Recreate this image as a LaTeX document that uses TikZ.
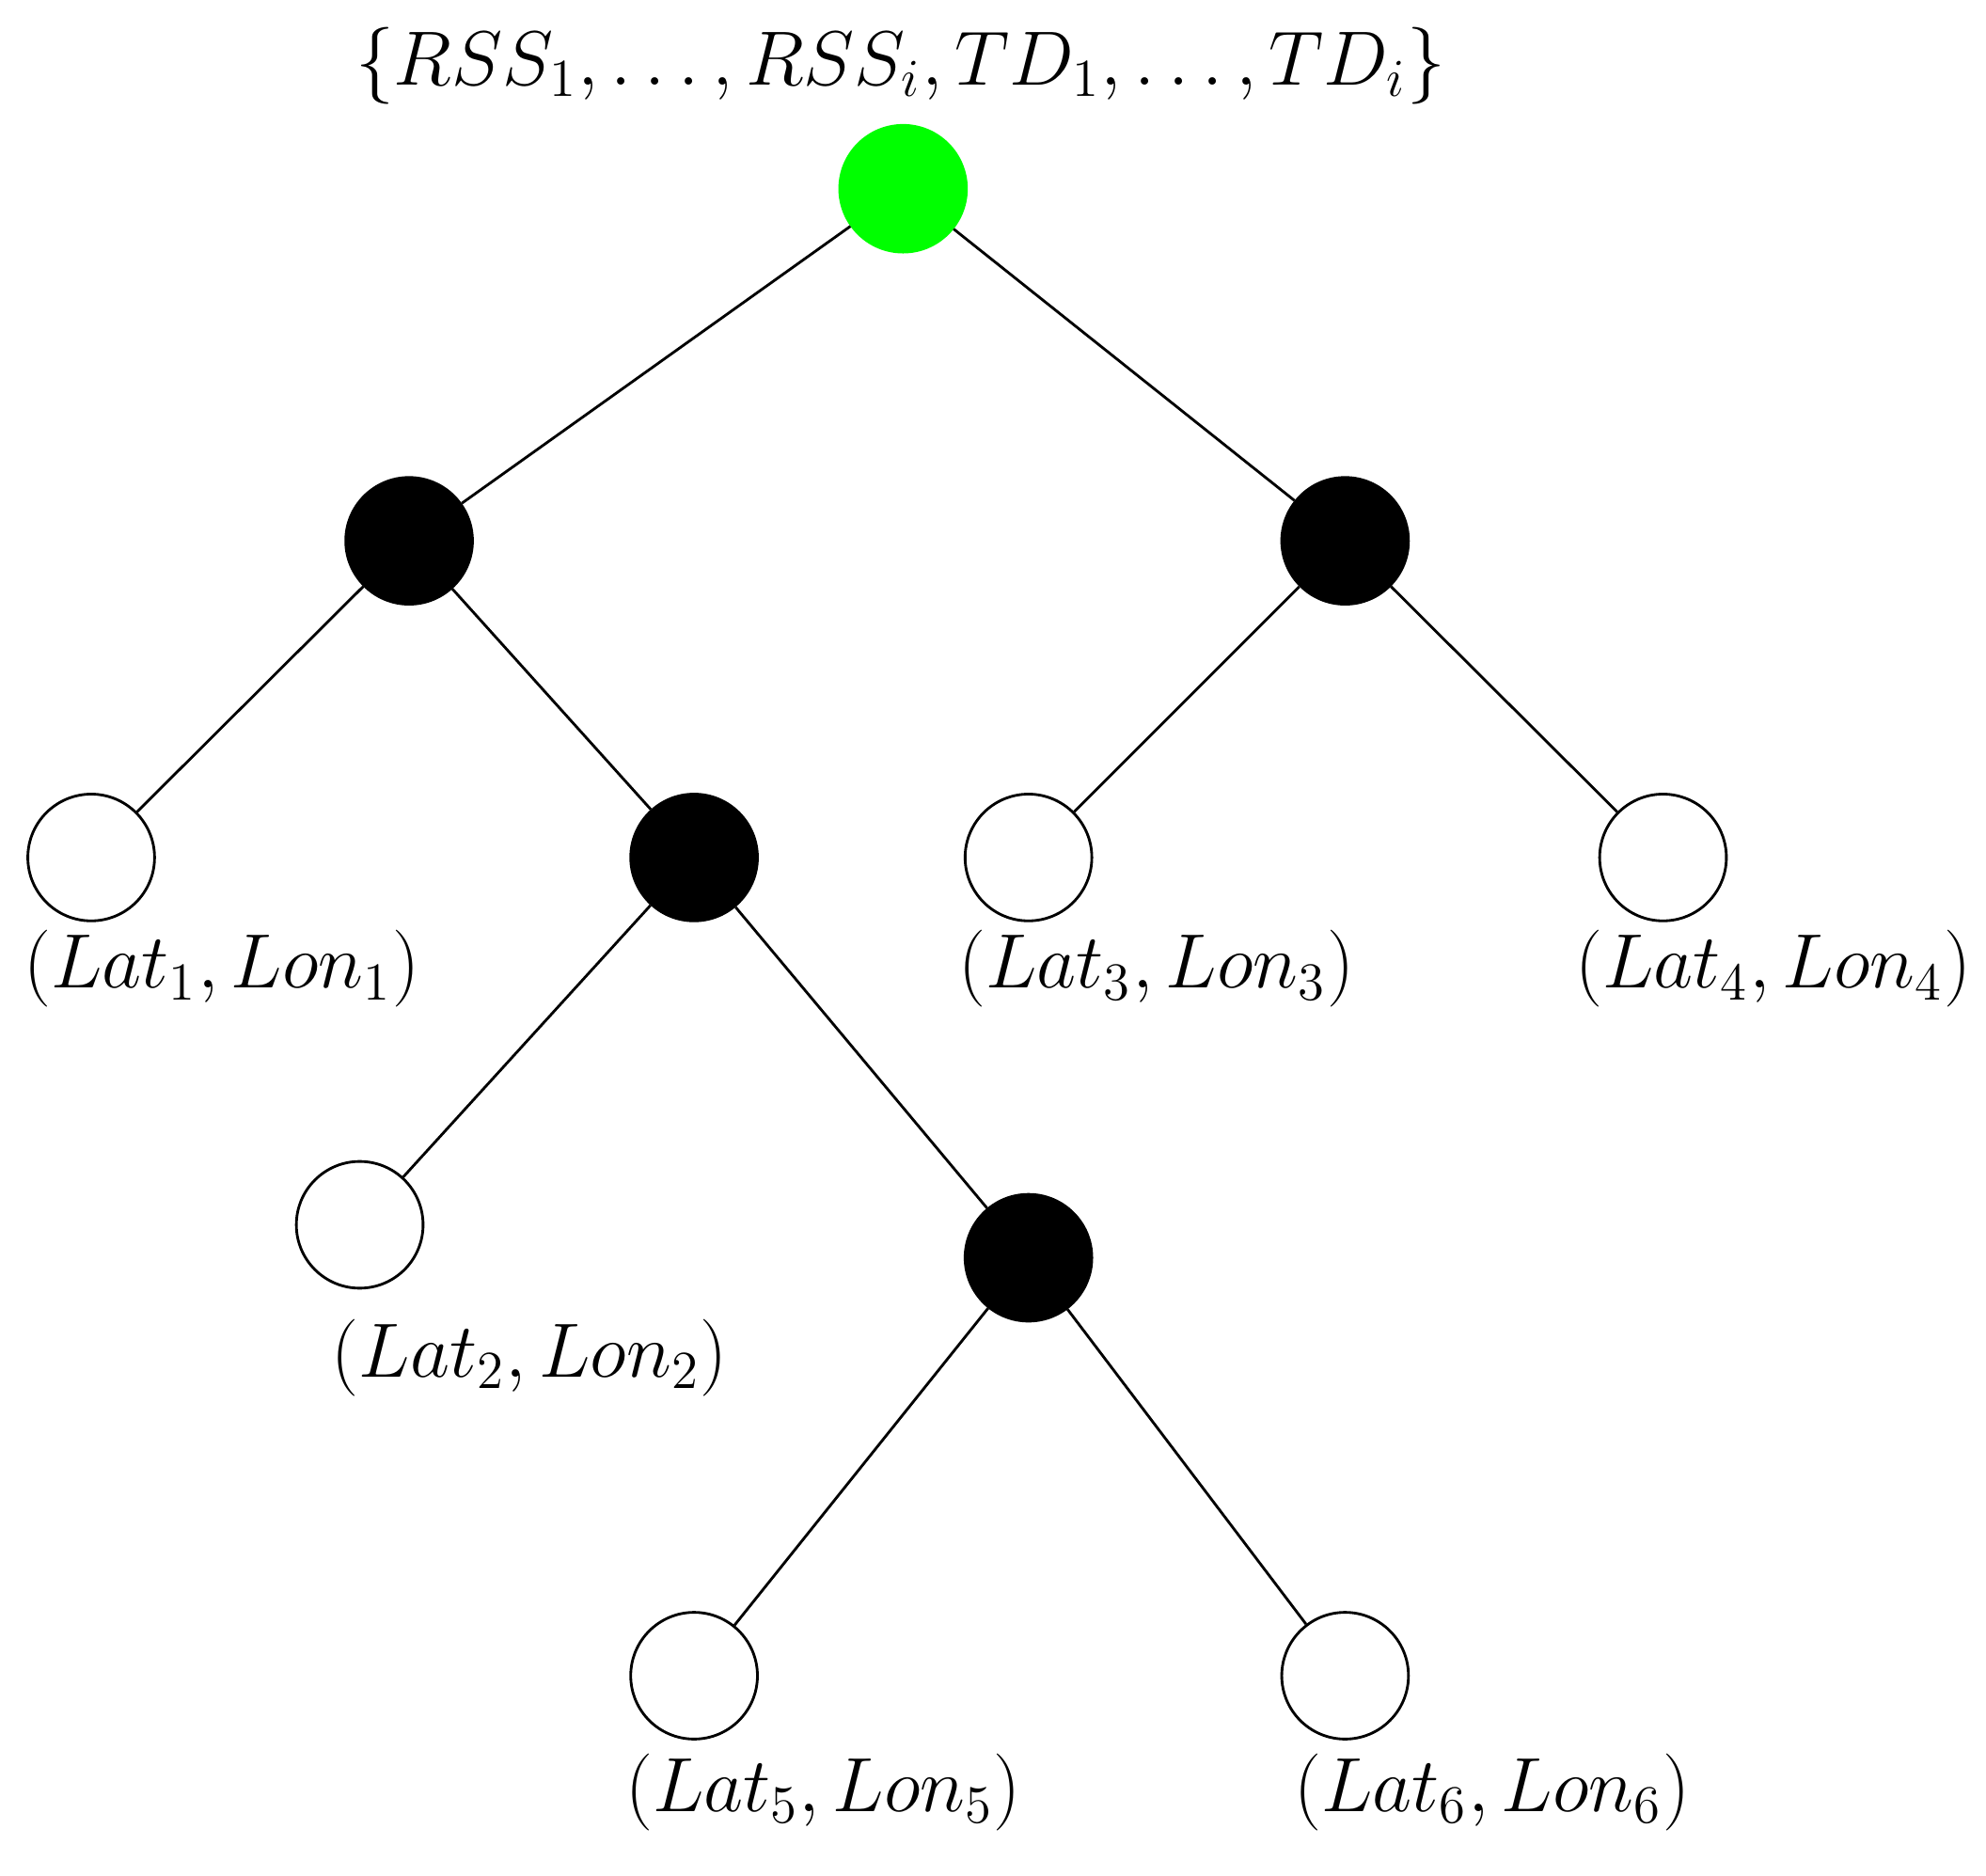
\documentclass[tikz,border=0pt]{standalone}
\usetikzlibrary{positioning}
\begin{document}
\begin{tikzpicture}[x=0.01cm, y=-0.01cm,
        every node/.style={circle, draw, line width=0.6pt, minimum size=1cm, inner sep=0pt},
        inner/.style={fill=black},
        leaf/.style={fill=white},
        start/.style={fill=green, draw=green},
        lbl/.style={draw=none, rectangle, minimum size=0pt, inner sep=1pt, font=\fontsize{17}{20}\selectfont}
        ]
        \useasboundingbox (0,0) rectangle (1568,1481);

        % Nodes
        \node[start] (root) at (713,149) {};
        \node[inner] (left) at (323,427) {};
        \node[inner] (right) at (1062,427) {};
        \node[leaf] (leafA) at (72,677) {};
        \node[inner] (mid) at (548,677) {};
        \node[leaf] (leafC) at (812,677) {};
        \node[leaf] (leafD) at (1313,677) {};
        \node[leaf] (leafB) at (284,967) {};
        \node[inner] (low) at (812,993) {};
        \node[leaf] (leafE) at (548,1323) {};
        \node[leaf] (leafF) at (1062,1323) {};

        % Edges
        \draw[line width=0.6pt] (root) -- (left);
        \draw[line width=0.6pt] (root) -- (right);
        \draw[line width=0.6pt] (left) -- (leafA);
        \draw[line width=0.6pt] (left) -- (mid);
        \draw[line width=0.6pt] (right) -- (leafC);
        \draw[line width=0.6pt] (right) -- (leafD);
        \draw[line width=0.6pt] (mid) -- (leafB);
        \draw[line width=0.6pt] (mid) -- (low);
        \draw[line width=0.6pt] (low) -- (leafE);
        \draw[line width=0.6pt] (low) -- (leafF);

        % Labels
        \node[lbl] (top) at (711,52) {$\{RSS_1,\ldots,RSS_i,TD_1,\ldots,TD_i\}$};
        \node[lbl] (labA) at (175,765) {$(Lat_1,Lon_1)$};
        \node[lbl] (labB) at (418,1072) {$(Lat_2,Lon_2)$};
        \node[lbl] (labC) at (913,765) {$(Lat_3,Lon_3)$};
        \node[lbl] (labD) at (1400,765) {$(Lat_4,Lon_4)$};
        \node[lbl] (labE) at (650,1415) {$(Lat_5,Lon_5)$};
        \node[lbl] (labF) at (1178,1415) {$(Lat_6,Lon_6)$};
\end{tikzpicture}
\end{document}
